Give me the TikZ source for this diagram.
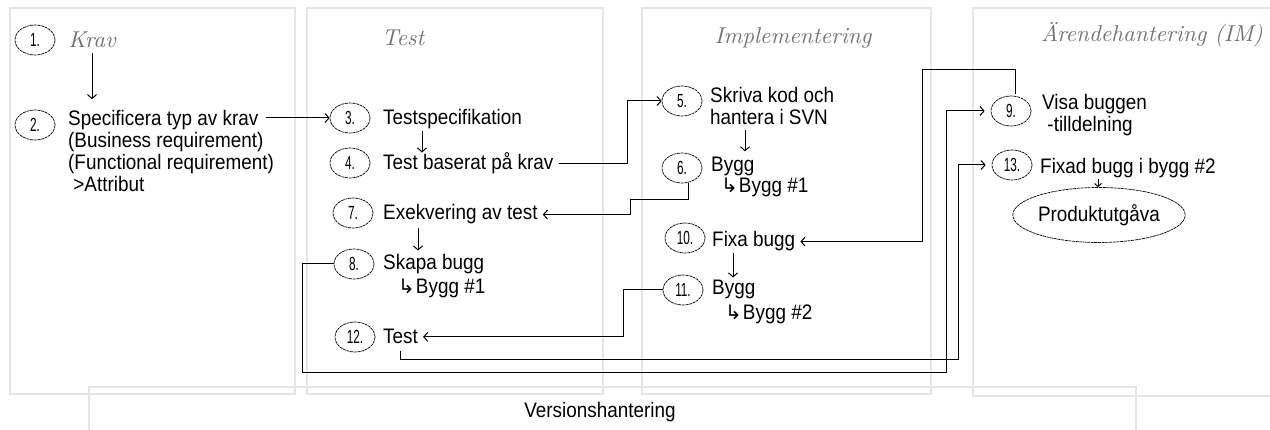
\documentclass[tikz,border=0pt]{standalone}
\usepackage{fontspec}
\setmainfont{Liberation Sans}
\newfontfamily\txtfont{Liberation Sans}[FakeStretch=0.9]
\newfontfamily\numfont{Liberation Sans}[FakeStretch=0.62]
\newfontfamily\symfont{DejaVu Sans}
\newfontfamily\handfont{lmroman10-italic.otf}
\usetikzlibrary{shapes.geometric,arrows.meta}
\newcommand{\hookarr}{{\symfont\fontsize{20}{20}\selectfont ↳}\hspace{1pt}}
\begin{document}
\begin{tikzpicture}[x=1pt,y=-1pt,
  num/.style={ellipse,draw,line width=0.7pt,dash pattern=on 3pt off 0.7pt,
    minimum width=40pt,minimum height=30pt,inner sep=0pt,
    font=\numfont\fontsize{19}{19}\selectfont},
  txt/.style={anchor=base west,inner sep=0pt,align=left,
    font=\txtfont\fontsize{21}{22}\selectfont},
  title/.style={inner sep=0pt,text=black!55,font=\handfont\fontsize{23}{23}\selectfont},
  con/.style={line width=1pt},
  arr/.style={con,-{Straight Barb[length=4pt,width=9pt]}},
  sarr/.style={con,-{Straight Barb[length=3pt,width=7pt]}},
  panel/.style={draw=black!10,line width=1.3pt}]
\fill[white] (0,0) rectangle (1270,430);
\useasboundingbox (0,0) rectangle (1270,430);
% panels
\draw[panel] (10,8) rectangle (295,394);
\draw[panel] (307,8) rectangle (603,394);
\draw[panel] (642,8) rectangle (931,394);
\draw[panel] (1270,8) -- (973,8) -- (973,396) -- (1270,396);
\draw[panel] (89,430) -- (89,387) -- (1136,387) -- (1136,430);
\node[font=\txtfont\fontsize{21}{23}\selectfont] (ver) at (600,412) {Versionshantering};
% titles
\node[title] (krav) at (92,40) {Krav};
\node[title] (ttest) at (403,38) {Test};
\node[title] (timpl) at (793,38) {Implementering};
\node[title] (tarende) at (1152,35) {Ärendehantering (IM)};
% panel 1
\node[num] (n1) at (35,40) {1.};
\node[num] (n2) at (35,125) {2.};
\node[txt] (t2) at (68,192) {Specificera typ av krav\\(Business requirement)\\(Functional requirement)\\\ >Attribut};
% panel 2
\node[num] (n3) at (350,118) {3.};
\node[txt] (t3) at (383,125) {Testspecifikation};
\node[num] (n4) at (350,163) {4.};
\node[txt] (t4) at (383,170) {Test baserat på krav};
\node[num] (n7) at (353,213) {7.};
\node[txt] (t7) at (383,220) {Exekvering av test};
\node[num] (n8) at (354,264) {8.};
\node[txt] (t8) at (383,270) {Skapa bugg};
\node[txt] (t8b) at (398,294) {\hookarr Bygg \#1};
\node[num] (n12) at (355,337) {12.};
\node[txt] (t12) at (383,344) {Test};
% panel 3
\node[num] (n5) at (682,101) {5.};
\node[txt] (t5) at (710,125) {Skriva kod och\\hantera i SVN};
\node[num] (n6) at (682,168) {6.};
\node[txt] (t6) at (711,172) {Bygg};
\node[txt] (t6b) at (721,193) {\hookarr Bygg \#1};
\node[num] (n10) at (685,238) {10.};
\node[txt] (t10) at (712,247) {Fixa bugg};
\node[num] (n11) at (683,290) {11.};
\node[txt] (t11) at (712,295) {Bygg};
\node[txt] (t11b) at (725,320) {\hookarr Bygg \#2};
% panel 4
\node[num] (n9) at (1011,111) {9.};
\node[txt] (t9) at (1042,132) {Visa buggen\\\ -tilldelning};
\node[num] (n13) at (1012,165) {13.};
\node[txt] (t13) at (1040,174) {Fixad bugg i bygg \#2};
\node[ellipse,draw,line width=0.7pt,dash pattern=on 3pt off 0.7pt,minimum width=158pt,
  minimum height=55pt,inner sep=0pt,font=\txtfont\fontsize{21}{23}\selectfont] (prod) at (1099,215) {Produktutgåva};
% helper coordinates
\coordinate (c2) at (266,118);
\coordinate (x45) at (627,0);
\coordinate (x67) at (630,0);
\coordinate (y67) at (0,200);
\coordinate (x1112) at (623,0);
\coordinate (x8l) at (302,0);
\coordinate (x89) at (946,0);
\coordinate (x1213) at (958,0);
\coordinate (x910) at (922,0);
\coordinate (y9) at (0,70);
\coordinate (yb1) at (0,373);
\coordinate (yb2) at (0,360);
% short down arrows
\draw[arr] ([yshift=-5pt]krav.south) -- ++(0,46);
\draw[arr] ([xshift=39pt,yshift=-1pt]t3.south west) -- ++(0,22);
\draw[arr] ([xshift=35pt,yshift=-3pt]t7.south west) -- ++(0,23);
\draw[arr] ([xshift=35pt,yshift=-5pt]t5.south west) -- ++(0,21);
\draw[arr] ([xshift=21pt,yshift=-1pt]t10.south west) -- ++(0,25);
\draw[sarr] ([xshift=58pt]t13.south west) -- (prod.north -| {1098,0});
% connectors
\draw[arr] (c2) -- (n3.west);
\draw[arr] ([xshift=5pt]t4.east) -- (t4.east -| x45) |- (n5.west);
\draw[arr] ([xshift=6pt]n6.south) |- (x67 |- y67) |- ([xshift=5pt]t7.east);
\draw[arr] (n11.west) -- (x1112 |- n11.west) |- ([xshift=5pt]t12.east);
\draw[arr,shorten >=6pt] (n8.west) -| (x8l |- yb1) -- (x89 |- yb1) |- (n9.west);
\draw[arr,shorten >=6pt] ([yshift=-7pt]t12.south) |- (x1213 |- yb2) |- (n13.west);
\draw[arr] ([xshift=4pt,yshift=2pt]n9.north) |- (x910 |- y9) |- ([xshift=5pt]t10.east);
\end{tikzpicture}
\end{document}
